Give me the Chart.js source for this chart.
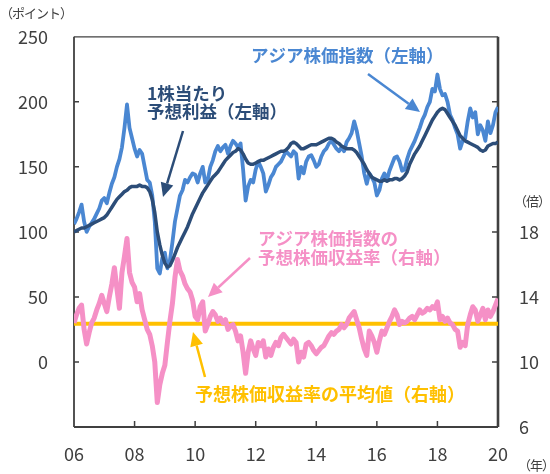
<!DOCTYPE html>
<html>
<head>
<meta charset="utf-8">
<script src="https://cdn.jsdelivr.net/npm/chart.js@4"></script>
<style>
  html, body { margin: 0; padding: 0; background: #fff; }
  #wrap { width: 550px; height: 474px; position: relative; }
</style>
</head>
<body>
<div id="wrap"><canvas id="chart" width="550" height="474"></canvas></div>
<script>
// monthly values, Jan 2006 .. Jan 2020
const startYear = 2006;

// アジア株価指数 (left axis)
const indexValues = [
  106, 110, 115, 121, 108, 100, 104, 107, 110, 114, 118, 124,
  126, 122, 130, 137, 142, 150, 156, 165, 180, 198, 180, 172,
  164, 158, 163, 160, 150, 140, 138, 128, 108, 72, 68, 80,
  84, 72, 78, 92, 108, 118, 128, 132, 140, 138, 142, 145,
  144, 138, 145, 150, 138, 140, 150, 155, 162, 166, 162, 165,
  167, 160, 166, 170, 168, 165, 168, 148, 124, 135, 140, 138,
  148, 154, 150, 145, 131, 136, 142, 145, 150, 152, 154, 158,
  162, 160, 158, 162, 160, 141, 150, 145, 154, 158, 159, 155,
  150, 152, 158, 162, 164, 168, 170, 167, 164, 162, 165, 162,
  169, 172, 176, 185, 178, 168, 158, 145, 137, 145, 142, 138,
  128, 132, 141, 145, 140, 147, 152, 157, 158, 154, 147, 148,
  156, 162, 166, 170, 175, 180, 186, 190, 196, 200, 210, 208,
  221, 210, 205, 206, 200, 190, 186, 180, 175, 164, 170, 172,
  185, 195, 188, 192, 175, 182, 178, 170, 185, 176, 182, 192,
  196
];

// 1株当たり予想利益 (left axis)
const epsValues = [
  100, 101, 102, 103, 103, 104, 105, 106, 107, 108, 109, 110,
  111, 113, 116, 119, 122, 125, 127, 129, 131, 132, 134, 135,
  135, 135, 136, 135, 135, 134, 131, 125, 115, 100, 90, 82,
  76, 73, 74, 78, 83, 88, 92, 96, 100, 104, 109, 114,
  118, 122, 126, 130, 133, 136, 139, 142, 144, 146, 149, 152,
  155, 157, 159, 161, 162, 164, 163, 160, 156, 153, 152, 152,
  153, 154, 155, 155, 156, 157, 158, 159, 160, 161, 162, 162,
  163, 165, 168, 169, 168, 166, 164, 164, 165, 166, 167, 167,
  167, 168, 169, 170, 171, 172, 172, 171, 169, 168, 166, 165,
  164, 164, 164, 163, 161, 158, 155, 152, 148, 145, 142, 141,
  140, 139, 139, 140, 139, 140, 140, 141, 141, 140, 141, 143,
  146, 152, 156, 160, 163, 166, 170, 174, 178, 182, 186, 189,
  192, 194, 195, 194, 191, 188, 185, 182, 178, 174, 172, 170,
  169, 168, 167, 166, 165, 163, 162, 163, 166, 167, 168, 168,
  169
];

// 予想株価収益率 (right axis, 倍)
const perValues = [
  12.4, 12.9, 13.3, 13.5, 12.0, 11.1, 11.8, 12.4, 12.7, 13.2, 13.6, 14.1,
  13.6, 13.1, 14.0, 14.8, 15.8, 14.5, 13.3, 15.5, 16.5, 17.6, 15.5, 14.9,
  14.6, 13.7, 14.2, 13.2, 12.6, 12.0, 11.7, 11.0, 10.0, 7.5, 8.6, 9.3,
  9.8, 11.2, 12.5, 13.6, 15.2, 16.3, 15.6, 15.3, 14.8, 14.5, 14.3, 13.8,
  12.8, 12.6, 13.4, 13.7, 11.9, 12.3, 12.8, 13.1, 12.9, 12.5, 12.7, 12.4,
  12.6, 12.0, 12.2, 12.3, 11.9, 11.3, 11.6, 10.6, 9.3, 10.6, 11.3, 10.8,
  10.4, 11.2, 11.0, 11.3, 10.3, 10.8, 10.4, 10.9, 11.2, 11.0, 11.5, 11.7,
  11.5, 11.3, 11.1, 11.4, 11.2, 10.0, 10.6, 10.3, 11.1, 11.2, 11.0, 10.7,
  10.5, 10.7, 10.9, 11.0, 11.3, 11.6, 11.8, 11.7, 11.9, 12.0, 12.3, 12.1,
  12.3, 12.7, 12.9, 13.1, 12.6, 12.1, 11.4, 10.8, 10.4, 11.9, 11.6, 11.2,
  10.6, 11.3, 11.9, 11.7, 12.1, 12.5, 12.8, 13.2, 12.9, 12.3, 12.5, 12.4,
  12.5, 12.7, 12.8, 12.6, 12.9, 13.2, 13.0, 13.1, 13.3, 13.2, 13.4, 13.3,
  13.7, 12.6, 12.8, 12.5, 12.7, 12.4, 12.3, 12.0, 11.9, 10.9, 11.2, 11.0,
  12.3, 12.9, 13.4, 13.2, 12.5, 12.9, 13.3, 12.6, 13.2, 12.8, 13.1, 13.5,
  13.9
];

// 予想株価収益率の平均値
const perAverage = 12.35;

const xTicks = [2006, 2008, 2010, 2012, 2014, 2016, 2018, 2020];

const FONT = "'Noto Sans CJK JP', 'Noto Sans', sans-serif";
const AXIS_COLOR = '#404040';
const LIGHT_BLUE = '#4a87d2';
const DARK_BLUE = '#2c4d78';
const PINK = '#f590c6';
const YELLOW = '#ffc000';

function toPoints(values) {
  return values.map((v, i) => ({ x: startYear + i / 12, y: v }));
}

// frame + inward tick marks
const framePlugin = {
  id: 'frame',
  beforeDatasetsDraw(chart) {
    const { ctx, chartArea: a, scales } = chart;
    ctx.save();
    ctx.strokeStyle = AXIS_COLOR;
    ctx.lineWidth = 1.2;
    ctx.beginPath();
    ctx.moveTo(a.left, a.top); ctx.lineTo(a.right, a.top);
    ctx.stroke();
    ctx.lineWidth = 1.8;
    ctx.beginPath();
    ctx.moveTo(a.left, a.top); ctx.lineTo(a.left, a.bottom);
    ctx.stroke();
    ctx.lineWidth = 2.2;
    ctx.beginPath();
    ctx.moveTo(a.left, a.bottom); ctx.lineTo(a.right, a.bottom);
    ctx.stroke();
    ctx.lineWidth = 2.6;
    ctx.beginPath();
    ctx.moveTo(a.right, a.top); ctx.lineTo(a.right, a.bottom);
    ctx.stroke();

    ctx.lineWidth = 1.5;
    ctx.beginPath();
    scales.y.ticks.forEach(t => {
      const p = scales.y.getPixelForValue(t.value);
      if (p <= a.top + 1 || p >= a.bottom - 1) return;
      ctx.moveTo(a.left, p); ctx.lineTo(a.left + 5, p);
    });
    scales.y1.ticks.forEach(t => {
      const p = scales.y1.getPixelForValue(t.value);
      if (p <= a.top + 1 || p >= a.bottom - 1) return;
      ctx.moveTo(a.right, p); ctx.lineTo(a.right - 6, p);
    });
    scales.x.ticks.forEach(t => {
      const p = scales.x.getPixelForValue(t.value);
      if (p <= a.left + 1 || p >= a.right - 1) return;
      ctx.moveTo(p, a.bottom); ctx.lineTo(p, a.bottom - 6);
    });
    ctx.stroke();
    ctx.restore();
  }
};

function arrow(ctx, x1, y1, x2, y2, color) {
  const ang = Math.atan2(y2 - y1, x2 - x1);
  const head = 14, half = 6.5;
  const bx = x2 - head * Math.cos(ang), by = y2 - head * Math.sin(ang);
  ctx.strokeStyle = color;
  ctx.fillStyle = color;
  ctx.lineWidth = 2.5;
  ctx.beginPath();
  ctx.moveTo(x1, y1); ctx.lineTo(bx, by);
  ctx.stroke();
  ctx.beginPath();
  ctx.moveTo(x2, y2);
  ctx.lineTo(bx + half * Math.sin(ang), by - half * Math.cos(ang));
  ctx.lineTo(bx - half * Math.sin(ang), by + half * Math.cos(ang));
  ctx.closePath();
  ctx.fill();
}

const labelPlugin = {
  id: 'labels',
  afterDraw(chart) {
    const ctx = chart.ctx;
    ctx.save();
    ctx.textBaseline = 'middle';
    ctx.textAlign = 'left';

    // unit labels
    ctx.fillStyle = AXIS_COLOR;
    ctx.font = '13px ' + FONT;
    ctx.letterSpacing = '-1px';
    ctx.fillText('（ポイント）', 0, 13);
    ctx.fillText('（倍）', 514, 201);
    ctx.fillText('（年）', 518, 465);
    ctx.letterSpacing = '0px';

    // series notes
    ctx.font = 'bold 17.5px ' + FONT;
    ctx.fillStyle = LIGHT_BLUE;
    ctx.fillText('アジア株価指数（左軸）', 251, 55);
    arrow(ctx, 368, 74, 420, 112, LIGHT_BLUE);

    ctx.fillStyle = DARK_BLUE;
    ctx.fillText('1株当たり', 147, 93);
    ctx.fillText('予想利益（左軸）', 147, 111);
    arrow(ctx, 183, 131, 163, 197, DARK_BLUE);

    ctx.fillStyle = PINK;
    ctx.fillText('アジア株価指数の', 258, 238);
    ctx.fillText('予想株価収益率（右軸）', 258, 257);
    arrow(ctx, 250, 258, 208, 297, PINK);

    ctx.font = 'bold 18px ' + FONT;
    ctx.fillStyle = YELLOW;
    ctx.fillText('予想株価収益率の平均値（右軸）', 195, 394);
    arrow(ctx, 205, 377, 193, 332, YELLOW);
    ctx.restore();
  }
};

const tickFont = { family: FONT, size: 18 };

new Chart(document.getElementById('chart'), {
  type: 'line',
  data: {
    datasets: [
      {
        label: '1株当たり予想利益',
        data: toPoints(epsValues),
        yAxisID: 'y',
        borderColor: DARK_BLUE,
        borderWidth: 3.5
      },
      {
        label: 'アジア株価指数',
        data: toPoints(indexValues),
        yAxisID: 'y',
        borderColor: LIGHT_BLUE,
        borderWidth: 3.8
      },
      {
        label: '予想株価収益率',
        data: toPoints(perValues),
        yAxisID: 'y1',
        borderColor: PINK,
        borderWidth: 5
      },
      {
        label: '平均値',
        data: [{ x: xTicks[0], y: perAverage }, { x: xTicks[xTicks.length - 1], y: perAverage }],
        yAxisID: 'y1',
        borderColor: YELLOW,
        borderWidth: 4
      }
    ]
  },
  options: {
    responsive: false,
    animation: false,
    devicePixelRatio: 1,
    layout: { padding: { top: 35, left: 0, right: 0, bottom: 0 } },
    elements: {
      point: { radius: 0 },
      line: { tension: 0, borderJoinStyle: 'round', borderCapStyle: 'butt' }
    },
    plugins: {
      legend: { display: false },
      tooltip: { enabled: false }
    },
    scales: {
      x: {
        type: 'linear',
        min: xTicks[0],
        max: xTicks[xTicks.length - 1],
        afterBuildTicks: s => { s.ticks = xTicks.map(v => ({ value: v })); },
        afterFit: s => { s.height = 47; },
        grid: { display: false, drawTicks: false },
        border: { display: false },
        ticks: {
          font: tickFont,
          color: AXIS_COLOR,
          padding: 16,
          maxRotation: 0,
          callback: v => String(v).slice(2)
        }
      },
      y: {
        position: 'left',
        min: -50,
        max: 250,
        afterFit: s => { s.width = 74; },
        grid: { display: false, drawTicks: false },
        border: { display: false },
        ticks: {
          stepSize: 50,
          font: tickFont,
          color: AXIS_COLOR,
          padding: 26,
          callback: v => (v < 0 ? '' : v)
        }
      },
      y1: {
        position: 'right',
        min: 6,
        max: 30,
        afterFit: s => { s.width = 52; },
        grid: { display: false, drawTicks: false },
        border: { display: false },
        ticks: {
          stepSize: 4,
          font: tickFont,
          color: AXIS_COLOR,
          padding: 21,
          callback: v => (v <= 18 ? v : '')
        }
      }
    }
  },
  plugins: [framePlugin, labelPlugin]
});
</script>
</body>
</html>
